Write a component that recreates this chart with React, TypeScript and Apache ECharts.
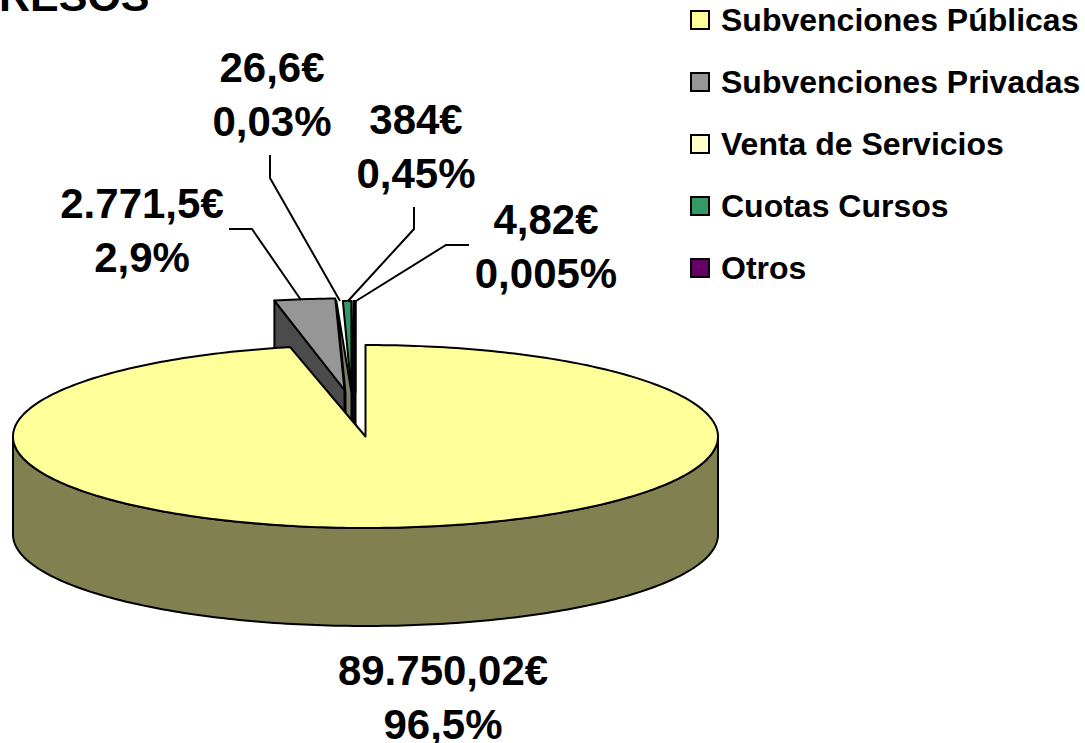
import React, { useEffect, useRef } from "react";
import * as echarts from "echarts";

const categories = ["Subvenciones Públicas", "Subvenciones Privadas", "Venta de Servicios", "Cuotas Cursos", "Otros"];
const euroValues = [89750.02, 2771.5, 26.6, 384, 4.82];
const euroLabels = ["89.750,02€", "2.771,5€", "26,6€", "384€", "4,82€"];
const percentLabels = ["96,5%", "2,9%", "0,03%", "0,45%", "0,005%"];
const topColors = ["#FFFF99", "#969696", "#FFFFCC", "#339966", "#660066"];
const wallColors = ["#808050", "#4B4B4B", "#808066", "#0A0A0A", "#0A0A0A"];
const titleFragment = "RESOS";

// layout of the 3D pie
const CX = 365.5, CY = 436.5, RX = 352.5, RY = 91.5, DEPTH = 98;
const BACK_SCALE = 0.93; // exploded slices sit further back
const explode: [number, number][] = [[0, 0], [-21, -46.5], [-20, -44], [-14, -44], [-10, -44]];
const labelPos: [number, number][] = [[443, 697], [142, 230], [272, 94], [416, 146], [546, 246]];
const leaders: number[][][] = [
  [],
  [[229, 229], [252, 229], [301, 300]],
  [[270, 155], [270, 178], [340, 301]],
  [[414, 207], [414, 229], [348, 301]],
  [[469, 245], [446, 245], [356, 301]],
];

const FONT = '"Liberation Sans", Arial, sans-serif';
const total = euroValues.reduce((a, b) => a + b, 0);
const LINE = { stroke: "#000", lineWidth: 2, lineJoin: "round" as const };

function rim(deg: number, rx: number, cx: number, cy: number): number[] {
  const t = (deg * Math.PI) / 180;
  return [cx + rx * Math.sin(t), cy - RY * Math.cos(t)];
}

function arc(from: number, to: number, rx: number, cx: number, cy: number): number[][] {
  const n = Math.max(2, Math.ceil(Math.abs(to - from)));
  const pts: number[][] = [];
  for (let i = 0; i <= n; i++) pts.push(rim(from + ((to - from) * i) / n, rx, cx, cy));
  return pts;
}

function renderSlice(index: number) {
  return (_params: any, api: any) => {
    const value = api.value(0);
    let start = 0;
    for (let i = 0; i < index; i++) start += euroValues[i];
    const a0 = (start / total) * 360;
    const a1 = a0 + (value / total) * 360;
    const [dx, dy] = explode[index];
    const cx = CX + dx, cy = CY + dy;
    const rx = index === 0 ? RX : RX * BACK_SCALE;
    const children: any[] = [];
    const poly = (points: number[][], fill: string) =>
      children.push({ type: "polygon", shape: { points }, style: { fill, ...LINE } });

    if (index === 0) {
      // front wall, then the top face
      const upper = arc(90, 270, rx, cx, cy);
      const lower = upper.map(([x, y]) => [x, y + DEPTH]).reverse();
      poly([...upper, ...lower], wallColors[index]);
    } else if (index === 1) {
      // left cut face
      const r = rim(a0, rx, cx, cy);
      poly([r, [cx, cy], [cx, cy + DEPTH], [r[0], r[1] + DEPTH]], wallColors[index]);
    } else if (index === 2) {
      // narrow cut face seen through the gap
      const r = rim(a0, rx, cx, cy);
      poly([r, [cx, cy], [cx, cy + DEPTH], [cx + 6, cy + DEPTH], [cx + 6, cy]], wallColors[index]);
    } else if (index === 4) {
      // right cut face shared by the last two slices
      const r = rim(a1, rx, cx, cy);
      poly([[r[0] - 2, r[1]], [r[0], r[1]], [r[0], r[1] + DEPTH + 30], [r[0] - 4, r[1] + DEPTH + 30], [r[0] - 4, cy]], wallColors[index]);
    }

    if (index !== 2) poly([[cx, cy], ...arc(a0, a1, rx, cx, cy)], topColors[index]);

    if (leaders[index].length) {
      children.push({ type: "polyline", shape: { points: leaders[index] }, style: { fill: "none", stroke: "#000", lineWidth: 2 } });
    }
    children.push({
      type: "text",
      style: {
        text: euroLabels[index] + "\n" + percentLabels[index],
        x: labelPos[index][0],
        y: labelPos[index][1],
        align: "center",
        verticalAlign: "middle",
        font: `bold 42px ${FONT}`,
        lineHeight: 54,
        fill: "#000",
      },
    });
    return { type: "group", children };
  };
}

export default function App() {
  const ref = useRef<HTMLDivElement>(null);
  useEffect(() => {
    document.body.style.margin = "0";
    const chart = echarts.init(ref.current!, null, { renderer: "svg" });
    chart.setOption({
      animation: false,
      backgroundColor: "#fff",
      title: {
        text: titleFragment,
        left: -1,
        top: -26,
        padding: 0,
        textStyle: { fontFamily: FONT, fontWeight: "bold", fontSize: 43, color: "#000" },
      },
      legend: {
        data: categories,
        orient: "vertical",
        left: 690,
        top: 4,
        padding: 0,
        itemWidth: 18,
        itemHeight: 18,
        itemGap: 30,
        selectedMode: false,
        icon: "rect",
        itemStyle: { borderColor: "#000", borderWidth: 2 },
        textStyle: { fontFamily: FONT, fontWeight: "bold", fontSize: 32, color: "#000", padding: [0, 0, 0, 7] },
      },
      series: categories.map((name, i) => ({
        type: "custom",
        name,
        coordinateSystem: "none",
        z: i === 0 ? 9 : i === 4 ? 2 : i === 2 ? 3 : i + 2,
        itemStyle: { color: topColors[i] },
        data: [{ name, value: [euroValues[i]] }],
        renderItem: renderSlice(i),
      })),
    });
    return () => chart.dispose();
  }, []);
  return <div ref={ref} style={{ position: "fixed", left: 0, top: 0, width: 1085, height: 743 }} />;
}
